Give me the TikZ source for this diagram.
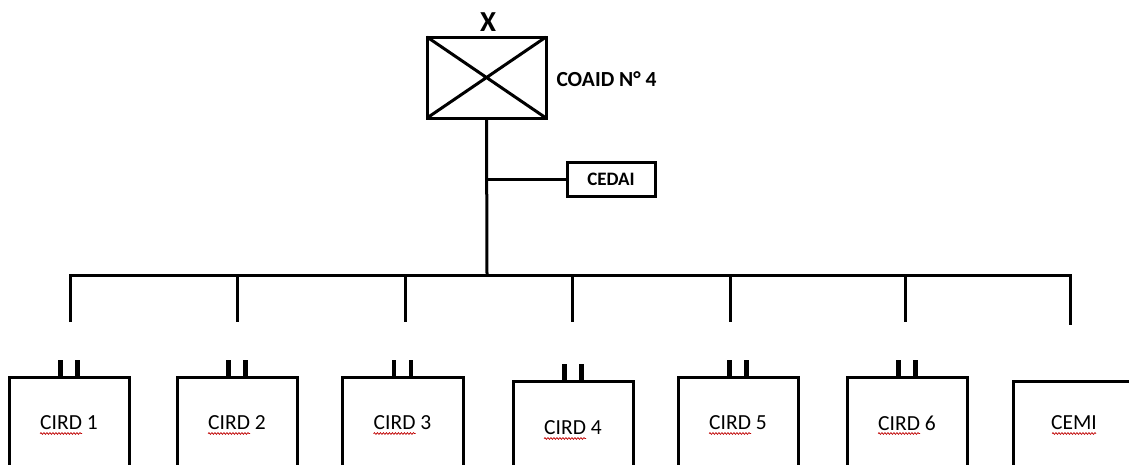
\documentclass[tikz,border=0pt]{standalone}
\usepackage{fontspec}
\setmainfont{Carlito}
\usetikzlibrary{decorations.pathmorphing}
\begin{document}
\begin{tikzpicture}[x=1pt,y=-1pt,line width=3pt,line join=miter,
  cbox/.style={draw,line width=3pt,inner sep=0pt,outer sep=0pt,anchor=north west},
  lbl/.style={inner sep=0pt,font=\fontsize{21.5}{21.5}\selectfont},
  tick/.style={line width=4.5pt},
  wave/.style={draw=red!75!black,line width=0.7pt,decorate,decoration={snake,amplitude=0.9pt,segment length=3pt}}]
\useasboundingbox (0,0) rectangle (1129,464);
\clip (0,0) rectangle (1129,464);
% top unit
\node[cbox,minimum width=119pt,minimum height=81pt] (coaid) at (427,37) {};
\draw (coaid.north west) -- (coaid.south east) (coaid.north east) -- (coaid.south west);
\node[inner sep=0pt,font=\bfseries\fontsize{29}{29}\selectfont] (xl) at (488,22) {X};
\node[inner sep=0pt,anchor=west,font=\bfseries\fontsize{21.5}{21.5}\selectfont] (coaidl) at (555,79) {COAID N° 4};
% CEDAI
\node[draw,line width=3pt,minimum width=88pt,minimum height=34pt,inner sep=0pt,font=\bfseries\fontsize{19}{19}\selectfont] (cedai) at (611,179.5) {CEDAI};
\coordinate (jc) at (coaid.south |- cedai.west);
\coordinate (jb) at (487,275);
\draw (coaid.south) -- (jb);
\draw (jc) -- (cedai.west);
% bus and droppers
\coordinate (bl) at (70,275);
\coordinate (br) at (1070,275);
\coordinate (e1) at (70,322);
\coordinate (e7) at (1070,325);
\draw (e1) -- (bl) -- (br) -- (e7);
\foreach \i/\x in {2/237,3/405,4/572,5/730,6/905}{
  \coordinate (d\i) at (\x,275);
  \coordinate (e\i) at (\x,322);
  \draw (d\i) -- (e\i);
}
% boxes
\foreach \n/\l/\t/\r/\lab/\ly/\ua/\ub in {
  c1/9/377/129/CIRD 1/423/-29/13,
  c2/177/377/297/CIRD 2/423/-29/13,
  c3/342/377/463/CIRD 3/423/-29/13,
  c4/513/381/633/CIRD 4/428/-29/13,
  c5/678/377/798/CIRD 5/423/-29/13,
  c6/847/377/967/CIRD 6/423/-29/13,
  cemi/1013/381/1135/CEMI/423/-22/22}{
  \node[cbox,minimum width={(\r-\l)*1pt},minimum height={(466-\t)*1pt}] (\n) at (\l,\t) {};
  \node[lbl] (\n-t) at ({(\l+\r)/2},\ly) {\lab};
  \draw[wave] ({(\l+\r)/2+\ua},\ly+10.5) -- ({(\l+\r)/2+\ub},\ly+10.5);
}
\foreach \n in {c1,c2,c3,c4,c5,c6}{
  \draw[tick] ([xshift=-8.5pt]\n.north) -- ++(0,-17);
  \draw[tick] ([xshift=8.5pt]\n.north) -- ++(0,-17);
}
\end{tikzpicture}
\end{document}
